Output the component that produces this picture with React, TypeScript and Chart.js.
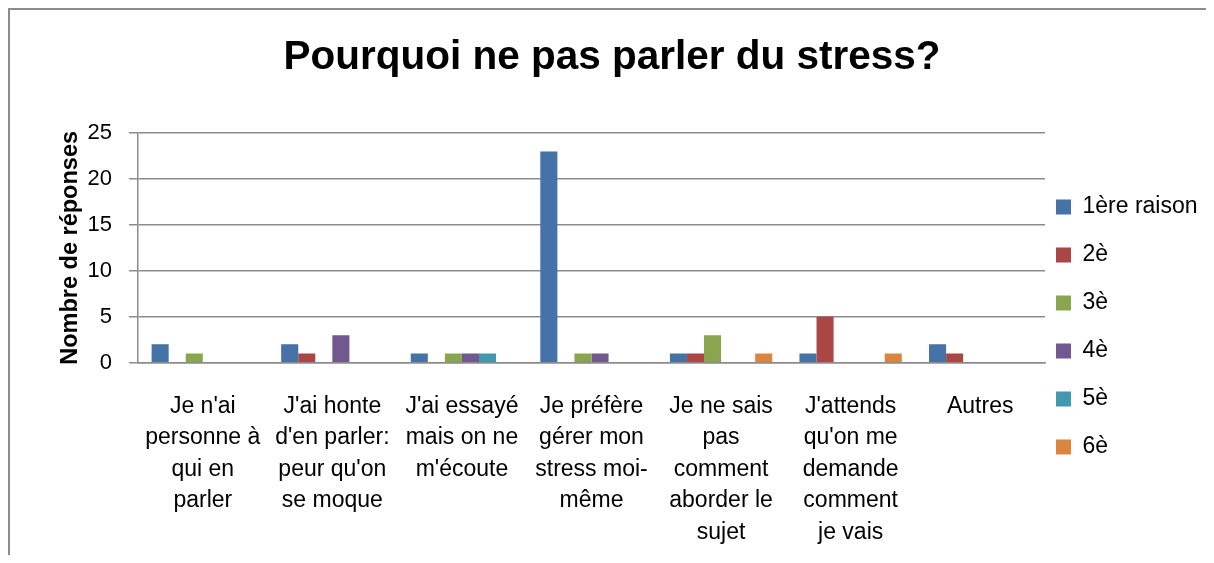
import React, { useEffect, useRef } from 'react';
import { Chart, registerables } from 'chart.js';

Chart.register(...registerables);

const titleText = 'Pourquoi ne pas parler du stress?';
const yAxisTitle = 'Nombre de réponses';

const categories: string[][] = [
  ["Je n'ai", 'personne à', 'qui en', 'parler'],
  ["J'ai honte", "d'en parler:", "peur qu'on", 'se moque'],
  ["J'ai essayé", 'mais on ne', "m'écoute"],
  ['Je préfère', 'gérer mon', 'stress moi-', 'même'],
  ['Je ne sais', 'pas', 'comment', 'aborder le', 'sujet'],
  ["J'attends", "qu'on me", 'demande', 'comment', 'je vais'],
  ['Autres'],
];

const seriesNames = ['1ère raison', '2è', '3è', '4è', '5è', '6è'];

const premiere = [2, 2, 1, 23, 1, 1, 2];
const deuxieme = [0, 1, 0, 0, 1, 5, 1];
const troisieme = [1, 0, 1, 1, 3, 0, 0];
const quatrieme = [0, 3, 1, 1, 0, 0, 0];
const cinquieme = [0, 0, 1, 0, 0, 0, 0];
const sixieme = [0, 0, 0, 0, 1, 1, 0];

const yTicks = [0, 5, 10, 15, 20, 25];

const seriesColors = ['#4572A7', '#AA4643', '#89A54E', '#71588F', '#4198AF', '#DB843D'];

const FONT = "'Liberation Sans', Arial, sans-serif";
const GRID = '#8c8c8c';

const CANVAS_W = 1204;
const CANVAS_H = 545;
const PLOT_LEFT = 128;
const PLOT_RIGHT = 1035;
const PLOT_BOTTOM = 352.7;
const LEGEND_PAD = 25;
const LEGEND_FONT = 23;

const legendPlacer = {
  id: 'legendPlacer',
  beforeDraw(chart: any) {
    const lg = chart.legend;
    if (!lg) return;
    const w = lg.width;
    const h = lg.height;
    lg.left = 1046 - LEGEND_PAD;
    lg.right = lg.left + w;
    lg.top = 185.5 - LEGEND_PAD;
    lg.bottom = lg.top + h;
  },
};

export default function App() {
  const ref = useRef<HTMLCanvasElement | null>(null);

  useEffect(() => {
    if (!ref.current) return;
    const seriesData = [premiere, deuxieme, troisieme, quatrieme, cinquieme, sixieme];
    const chart = new Chart(ref.current, {
      type: 'bar',
      data: {
        labels: categories,
        datasets: seriesNames.map((name, i) => ({
          label: name,
          data: seriesData[i],
          backgroundColor: seriesColors[i],
          borderWidth: 0,
          barPercentage: 1,
          categoryPercentage: 0.79,
        })),
      },
      options: {
        responsive: false,
        maintainAspectRatio: false,
        animation: false,
        color: '#000',
        font: { family: FONT },
        layout: { padding: 0 },
        plugins: {
          tooltip: { enabled: false },
          title: {
            display: true,
            text: titleText,
            color: '#000',
            font: { family: FONT, size: 40.5, weight: 'bold', lineHeight: 1.2 },
            padding: { top: 23.5, bottom: 50.9 },
          },
          legend: {
            display: true,
            position: 'right',
            align: 'start',
            maxWidth: CANVAS_W - PLOT_RIGHT,
            labels: {
              color: '#000',
              font: { family: FONT, size: LEGEND_FONT },
              boxWidth: 15,
              boxHeight: 15,
              padding: LEGEND_PAD,
            },
          },
        },
        scales: {
          x: {
            grid: { display: false, drawTicks: false },
            border: { display: true, color: GRID, width: 1.5 },
            ticks: {
              autoSkip: false,
              maxRotation: 0,
              minRotation: 0,
              padding: 28,
              color: '#000',
              font: { family: FONT, size: 23, lineHeight: 1.37 },
            },
            afterFit(scale: any) {
              scale.height = CANVAS_H - PLOT_BOTTOM;
            },
          },
          y: {
            min: yTicks[0],
            max: yTicks[yTicks.length - 1],
            ticks: {
              stepSize: yTicks[1] - yTicks[0],
              padding: 17,
              color: '#000',
              font: { family: FONT, size: 22 },
            },
            grid: {
              color: GRID,
              lineWidth: 1.5,
              drawTicks: true,
              tickLength: 9,
              tickColor: GRID,
            },
            border: { display: true, color: GRID, width: 1.5 },
            title: {
              display: true,
              text: yAxisTitle,
              color: '#000',
              font: { family: FONT, size: 23.5, weight: 'bold', lineHeight: 1.2 },
              padding: { top: 46, bottom: 0 },
            },
            afterFit(scale: any) {
              scale.width = PLOT_LEFT;
            },
          },
        },
      },
      plugins: [legendPlacer],
    });
    return () => chart.destroy();
  }, []);

  return (
    <div
      style={{
        width: 1206,
        height: 547,
        boxSizing: 'border-box',
        borderTop: `2px solid ${GRID}`,
        borderLeft: `2px solid ${GRID}`,
        background: '#fff',
      }}
    >
      <canvas ref={ref} width={CANVAS_W} height={CANVAS_H} style={{ display: 'block' }} />
    </div>
  );
}
